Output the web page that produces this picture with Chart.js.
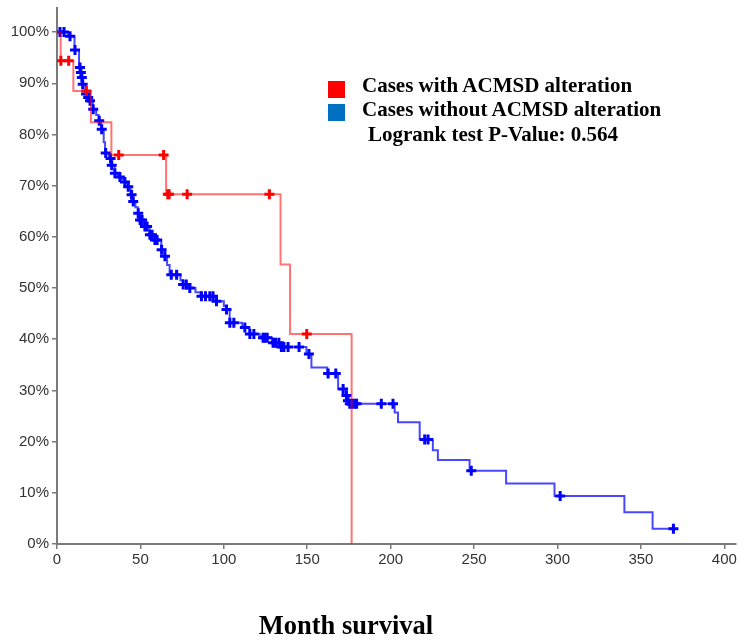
<!DOCTYPE html>
<html>
<head>
<meta charset="utf-8">
<script src="https://cdn.jsdelivr.net/npm/chart.js@4.4.0/dist/chart.umd.min.js"></script>
<style>
  body { margin: 0; background: #fff; }
  #wrap { position: relative; width: 744px; height: 641px; }
  .serif { position: absolute; font-family: "Liberation Serif", "Times New Roman", serif; font-weight: bold; color: #000; white-space: nowrap; }
  .key { font-size: 21px; line-height: 21px; }
  .swatch { position: absolute; width: 17px; height: 17px; }
  #xtitle { left: 246px; width: 200px; top: 612px; font-size: 26.5px; line-height: 26px; text-align: center; }
</style>
</head>
<body>
<div id="wrap">
  <canvas id="km" width="744" height="641"></canvas>
  <div class="swatch" style="left:328px; top:81px; background:#ff0000;"></div>
  <div class="swatch" style="left:328px; top:104px; background:#0070c0;"></div>
  <div class="serif key" id="key-altered" style="left:362px; top:75px;"></div>
  <div class="serif key" id="key-unaltered" style="left:362px; top:99px;"></div>
  <div class="serif key" id="key-pvalue" style="left:368px; top:124px;"></div>
  <div class="serif" id="xtitle">Month survival</div>
</div>
<script>
const seriesLabels = ['Cases with ACMSD alteration', 'Cases without ACMSD alteration'];
const pValueText = 'Logrank test P-Value: 0.564';

// months at which survival drops, and % surviving after each drop
const alteredTimes = [0, 2.2, 9.8, 20.3, 32.6, 65.4, 134, 139.7, 176.6];
const alteredSurv = [100, 94.4, 88.5, 82.4, 76.0, 68.3, 54.6, 41.0, 0];
const alteredCensored = [2.3, 7.0, 17.6, 37, 63.9, 66.4, 67.2, 78, 127.3, 149.7];

const unalteredTimes = [0, 6.5, 10.5, 13.2, 14.2, 14.8, 15.2, 17.0, 18.5, 19.6,
  21.5, 23.5, 25.0, 26.5, 28.0, 28.8, 31.0, 32.5, 34.5, 36.5,
  39.0, 40.5, 42.5, 44.0, 45.5, 47.0, 48.5, 49.5, 52.5, 55.5,
  58.5, 62.5, 64.5, 66.0, 67.5, 74.0, 75.5, 79.0, 83.0, 86.0,
  95.0, 100.0, 101.5, 103.5, 111.0, 115.5, 121.5, 123.5, 129.0, 134.0,
  149.5, 152.5, 162.0, 168.5, 173.0, 174.2, 175.2, 202.4, 204.4, 217.4,
  225.3, 228.3, 247.3, 269.2, 298.2, 340.1, 357.0];
const unalteredSurv = [100, 99.2, 96.5, 93.1, 92.1, 91.1, 89.8, 87.9, 87.2, 86.6,
  84.9, 83.8, 82.7, 81.0, 78.5, 76.4, 75.3, 74.0, 72.4, 71.7,
  71.2, 70.7, 69.8, 68.2, 66.9, 65.8, 64.6, 63.3, 62.0, 60.4,
  59.4, 57.5, 56.2, 54.5, 52.6, 51.5, 50.7, 50.0, 49.2, 48.4,
  47.4, 46.5, 45.8, 43.2, 42.3, 41.0, 40.6, 40.3, 39.3, 38.5,
  37.1, 34.5, 33.3, 30.3, 29.0, 28.0, 27.4, 25.7, 23.8, 20.4,
  18.3, 16.4, 14.3, 11.8, 9.4, 6.2, 3.0];
const unalteredCensored = [1.8, 4.2, 7.8, 10.8, 13.8, 14.3, 14.9, 15.4, 17.4, 18.7,
  19.8, 21.7, 25.3, 26.8, 29.2, 32.1, 32.8, 34.7, 37.7, 40.7,
  42.7, 44.7, 45.7, 48.7, 49.8, 51, 52.7, 54, 55.7, 57,
  58.7, 60, 62.7, 64.7, 68.5, 71.7, 75.6, 77.5, 79.6, 86.6,
  89, 91.6, 93.5, 95.6, 101.6, 103.6, 106, 112.6, 115.6, 118,
  123.5, 124.6, 126, 129.5, 131, 133, 134.5, 136, 138.5, 145.1,
  151, 162.5, 167.1, 171.5, 173.5, 174.4, 175.5, 177, 178.5, 179.6,
  194.4, 201.4, 220.4, 222.4, 248.3, 301.6, 369.5];

const xTicks = [0, 50, 100, 150, 200, 250, 300, 350, 400];
const yTicks = [0, 10, 20, 30, 40, 50, 60, 70, 80, 90, 100];

function curve(times, surv, censored) {
  const pts = times.map((t, i) => ({ x: t, y: surv[i] }));
  const last = Math.max(...censored);
  if (last > times[times.length - 1]) pts.push({ x: last, y: surv[surv.length - 1] });
  return pts;
}

// put each censored case on the step curve
function censorMarks(times, surv, censored) {
  return censored.map(t => {
    let s = surv[0];
    times.forEach((tt, i) => { if (tt <= t) s = surv[i]; });
    return { x: t, y: s };
  });
}

document.getElementById('key-altered').textContent = seriesLabels[0];
document.getElementById('key-unaltered').textContent = seriesLabels[1];
document.getElementById('key-pvalue').textContent = pValueText;

const axisGrey = '#7a7a7a';
const tickFont = { family: 'Liberation Sans, Arial, sans-serif', size: 15 };

new Chart(document.getElementById('km'), {
  type: 'line',
  data: {
    datasets: [
      {
        label: seriesLabels[0] + ' censored',
        type: 'scatter',
        data: censorMarks(alteredTimes, alteredSurv, alteredCensored),
        pointStyle: 'cross',
        pointRadius: 5,
        borderWidth: 3,
        borderColor: '#ff0000',
        showLine: false
      },
      {
        label: seriesLabels[0],
        data: curve(alteredTimes, alteredSurv, alteredCensored),
        stepped: true,
        borderColor: 'rgba(255, 0, 0, 0.55)',
        borderWidth: 2,
        pointRadius: 0,
        fill: false
      },
      {
        label: seriesLabels[1] + ' censored',
        type: 'scatter',
        data: censorMarks(unalteredTimes, unalteredSurv, unalteredCensored),
        pointStyle: 'cross',
        pointRadius: 5,
        borderWidth: 3,
        borderColor: '#0000ff',
        showLine: false
      },
      {
        label: seriesLabels[1],
        data: curve(unalteredTimes, unalteredSurv, unalteredCensored),
        stepped: true,
        borderColor: 'rgba(0, 0, 255, 0.72)',
        borderWidth: 2,
        pointRadius: 0,
        fill: false
      }
    ]
  },
  options: {
    responsive: false,
    animation: false,
    layout: { padding: { top: 5, right: 7, left: 0, bottom: 0 } },
    plugins: { legend: { display: false }, tooltip: { enabled: false } },
    scales: {
      x: {
        type: 'linear',
        min: 0,
        max: 407,
        afterBuildTicks: s => { s.ticks = xTicks.map(v => ({ value: v })); },
        afterFit: s => { s.height = 97; },
        ticks: { font: tickFont, color: '#333', padding: 2, maxRotation: 0 },
        grid: { drawOnChartArea: false, drawTicks: true, tickLength: 5, color: axisGrey, lineWidth: 1.5 },
        border: { color: axisGrey, width: 2 }
      },
      y: {
        type: 'linear',
        min: 0,
        max: 104.7,
        afterBuildTicks: s => { s.ticks = yTicks.map(v => ({ value: v })); },
        // fixed gutter; the top label sits well below the axis end anyway
        afterFit: s => { s.width = 57; s.paddingTop = 0; s.paddingBottom = 0; },
        ticks: { font: tickFont, color: '#333', padding: 3, callback: v => v + '%' },
        grid: { drawOnChartArea: false, drawTicks: true, tickLength: 5, color: axisGrey, lineWidth: 1.5 },
        border: { color: axisGrey, width: 2 }
      }
    }
  }
});
</script>
</body>
</html>
